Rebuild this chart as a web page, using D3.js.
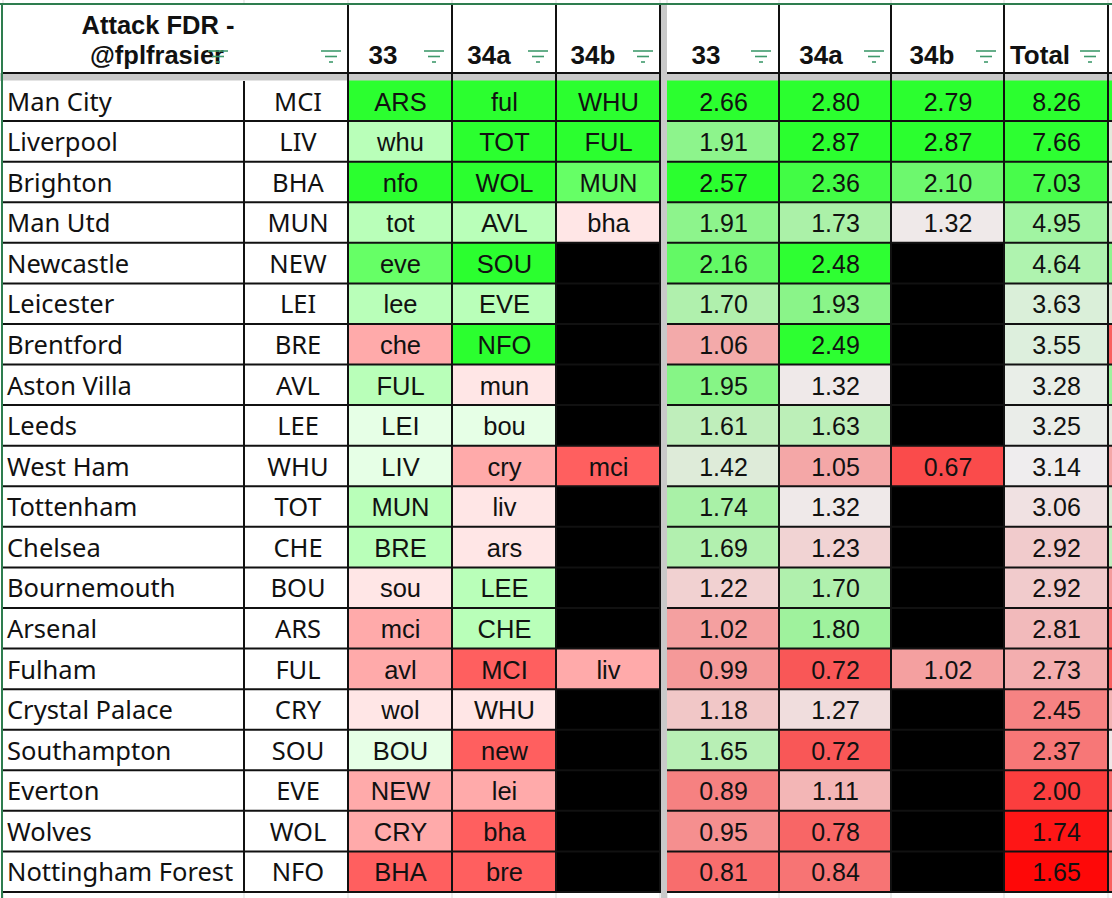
<!DOCTYPE html>
<html>
<head>
<meta charset="utf-8">
<script src="https://cdn.jsdelivr.net/npm/d3@7"></script>
<style>
html, body { margin: 0; padding: 0; background: #fff; overflow: hidden; }
svg { display: block; }
</style>
</head>
<body>
<div id="viz"></div>
<script>
const teams = ["Man City","Liverpool","Brighton","Man Utd","Newcastle","Leicester","Brentford","Aston Villa","Leeds","West Ham","Tottenham","Chelsea","Bournemouth","Arsenal","Fulham","Crystal Palace","Southampton","Everton","Wolves","Nottingham Forest"];
const codes = ["MCI","LIV","BHA","MUN","NEW","LEI","BRE","AVL","LEE","WHU","TOT","CHE","BOU","ARS","FUL","CRY","SOU","EVE","WOL","NFO"];

const fix33 = ["ARS","whu","nfo","tot","eve","lee","che","FUL","LEI","LIV","MUN","BRE","sou","mci","avl","wol","BOU","NEW","CRY","BHA"];
const fix34a = ["ful","TOT","WOL","AVL","SOU","EVE","NFO","mun","bou","cry","liv","ars","LEE","CHE","MCI","WHU","new","lei","bha","bre"];
const fix34b = ["WHU","FUL","MUN","bha",null,null,null,null,null,"mci",null,null,null,null,"liv",null,null,null,null,null];

// fixture colour tier, 7 = easiest, 1 = hardest
const tier33 = [7,5,7,5,6,5,2,5,4,4,5,5,3,2,2,3,4,2,2,1];
const tier34a = [7,7,7,5,7,5,7,3,4,2,3,3,5,5,1,3,1,2,1,1];
const tier34b = [7,7,6,3,null,null,null,null,null,1,null,null,null,null,2,null,null,null,null,null];
const tierLevels = [1,2,3,4,5,6,7];
const tierColors = ["#ff5f5f","#ffaaaa","#ffe6e6","#e6ffe6","#b9ffb9","#66ff66","#2bff2f"];

const val33 = [2.66,1.91,2.57,1.91,2.16,1.70,1.06,1.95,1.61,1.42,1.74,1.69,1.22,1.02,0.99,1.18,1.65,0.89,0.95,0.81];
const val34a = [2.80,2.87,2.36,1.73,2.48,1.93,2.49,1.32,1.63,1.05,1.32,1.23,1.70,1.80,0.72,1.27,0.72,1.11,0.78,0.84];
const val34b = [2.79,2.87,2.10,1.32,null,null,null,null,null,0.67,null,null,null,null,1.02,null,null,null,null,null];
const totals = [8.26,7.66,7.03,4.95,4.64,3.63,3.55,3.28,3.25,3.14,3.06,2.92,2.92,2.81,2.73,2.45,2.37,2.00,1.74,1.65];
// the column cut off at the right edge, only its colour shows
const nextCol = [2.6,1.4,1.36,1.4,1.9,1.4,0.75,1.8,1.38,1.05,1.45,1.6,1.0,0.8,0.75,1.1,1.32,0.8,0.9,0.75];

const fixHeads = ["33","34a","34b"];
const valHeads = ["33","34a","34b","Total"];

const width = 1112;
const height = 898;
const textFont = "'Noto Sans', sans-serif";
const numFont = "'Liberation Sans', Arial, sans-serif";
const lineCol = "#111";
const greenLine = "#2e7d4f";
const bandCol = "#c9c9c9";

const leftEdges = [3, 244, 348, 452, 556, 660];
const rightEdges = [667, 779, 891, 1004, 1108];

const svg = d3.select("#viz").append("svg")
	.attr("width", width)
	.attr("height", height)
	.style("font-family", numFont);

const y = d3.scaleBand().domain(d3.range(teams.length)).range([80.5, 892]);
const tierScale = d3.scaleOrdinal().domain(tierLevels).range(tierColors);
const gwScale = d3.scaleLinear().domain([0.36, 1.32, 2.5]).range(["#ff0000", "#efe9e9", "#2bff2f"]).clamp(true);
const totalScale = d3.scaleLinear().domain([1.6, 3.14, 7.7]).range(["#ff0000", "#efedee", "#2bff2f"]).clamp(true);

// faint sheet gridlines above and below the table
const faint = leftEdges.concat(rightEdges);
svg.append("g").selectAll("line")
	.data(faint)
	.join("line")
		.attr("x1", d => d).attr("x2", d => d)
		.attr("y1", 0).attr("y2", height)
		.attr("stroke", "#e6e6e6").attr("stroke-width", 1.5);

// white header and grey frozen bands
svg.append("rect").attr("x", 3).attr("y", 5).attr("width", width - 3).attr("height", 68).attr("fill", "#fff");
svg.append("rect").attr("x", 0).attr("y", 73).attr("width", width).attr("height", 8).attr("fill", bandCol);
svg.append("rect").attr("x", 661).attr("y", 5).attr("width", 6).attr("height", height - 5).attr("fill", bandCol);

const rows = d3.range(teams.length);

// white name and code cells
svg.append("rect").attr("x", 3).attr("y", y(0)).attr("width", 345).attr("height", 811.5).attr("fill", "#fff");

function cellCols(values, tiers, i) {
	const g = svg.append("g");
	const x0 = leftEdges[i + 2], x1 = leftEdges[i + 3];
	g.selectAll("rect")
		.data(rows)
		.join("rect")
			.attr("x", x0).attr("width", x1 - x0)
			.attr("y", d => y(d)).attr("height", y.bandwidth())
			.attr("fill", d => values[d] === null ? "#000" : tierScale(tiers[d]));
	g.selectAll("text")
		.data(rows.filter(d => values[d] !== null))
		.join("text")
			.attr("x", (x0 + x1) / 2 + 0.5)
			.attr("y", d => y(d) + 30)
			.attr("text-anchor", "middle")
			.attr("font-size", 25.5)
			.attr("fill", "#111")
			.text(d => values[d]);
}
cellCols(fix33, tier33, 0);
cellCols(fix34a, tier34a, 1);
cellCols(fix34b, tier34b, 2);

function valCols(values, scale, i) {
	const g = svg.append("g");
	const x0 = rightEdges[i], x1 = rightEdges[i + 1];
	g.selectAll("rect")
		.data(rows)
		.join("rect")
			.attr("x", x0).attr("width", x1 - x0)
			.attr("y", d => y(d)).attr("height", y.bandwidth())
			.attr("fill", d => values[d] === null ? "#000" : scale(values[d]));
	g.selectAll("text")
		.data(rows.filter(d => values[d] !== null))
		.join("text")
			.attr("x", (x0 + x1) / 2 + 0.5)
			.attr("y", d => y(d) + 30)
			.attr("text-anchor", "middle")
			.attr("font-size", 25)
			.attr("fill", "#111")
			.text(d => values[d].toFixed(2));
}
valCols(val33, gwScale, 0);
valCols(val34a, gwScale, 1);
valCols(val34b, gwScale, 2);
valCols(totals, totalScale, 3);

// sliver of the next column
svg.append("g").selectAll("rect")
	.data(rows)
	.join("rect")
		.attr("x", 1108).attr("width", 4)
		.attr("y", d => y(d)).attr("height", y.bandwidth())
		.attr("fill", d => gwScale(nextCol[d]));

// team names and codes
svg.append("g").selectAll("text")
	.data(rows)
	.join("text")
		.attr("x", 7)
		.attr("y", d => y(d) + 30)
		.attr("font-family", textFont)
		.attr("font-size", 25.5)
		.attr("fill", "#111")
		.text(d => teams[d]);
svg.append("g").selectAll("text")
	.data(rows)
	.join("text")
		.attr("x", 298)
		.attr("y", d => y(d) + 30)
		.attr("text-anchor", "middle")
		.attr("font-family", textFont)
		.attr("font-size", 25.5)
		.attr("fill", "#111")
		.text(d => codes[d]);

// grid lines
const grid = svg.append("g").attr("stroke", lineCol).attr("stroke-width", 2);
const hLines = d3.range(1, teams.length + 1).map(i => i === teams.length ? 892 : y(i));
grid.selectAll(".h1")
	.data(hLines)
	.join("line").attr("class", "h1")
		.attr("x1", 3).attr("x2", 661)
		.attr("y1", d => d).attr("y2", d => d);
grid.selectAll(".h2")
	.data(hLines)
	.join("line").attr("class", "h2")
		.attr("x1", 667).attr("x2", width)
		.attr("y1", d => d).attr("y2", d => d);
grid.selectAll(".v1")
	.data(leftEdges.slice(1))
	.join("line").attr("class", "v1")
		.attr("x1", d => d).attr("x2", d => d)
		.attr("y1", d => d === 244 ? 81 : 5).attr("y2", 892);
grid.selectAll(".v2")
	.data(rightEdges.slice(1))
	.join("line").attr("class", "v2")
		.attr("x1", d => d).attr("x2", d => d)
		.attr("y1", 5).attr("y2", 892);
grid.append("line").attr("x1", 3).attr("x2", 661).attr("y1", 73).attr("y2", 73);
grid.append("line").attr("x1", 667).attr("x2", width).attr("y1", 73).attr("y2", 73);

// green frame of the header and left side
svg.append("line").attr("x1", 0).attr("x2", width).attr("y1", 4).attr("y2", 4).attr("stroke", greenLine).attr("stroke-width", 2);
svg.append("line").attr("x1", 2).attr("x2", 2).attr("y1", 4).attr("y2", height).attr("stroke", greenLine).attr("stroke-width", 2);

// header text
const title = svg.append("g").attr("font-weight", "bold").attr("font-size", 25.5).attr("fill", "#111").attr("text-anchor", "middle");
title.append("text").attr("x", 158).attr("y", 34).text("Attack FDR -");
title.append("text").attr("x", 157).attr("y", 64).text("@fplfrasier");

const headX = [383, 489, 593];
svg.append("g").selectAll("text")
	.data(fixHeads)
	.join("text")
		.attr("x", (d, i) => headX[i])
		.attr("y", 64)
		.attr("text-anchor", "middle")
		.attr("font-weight", "bold").attr("font-size", 26).attr("fill", "#111")
		.text(d => d);
const valHeadX = [706, 821, 932, 1040];
svg.append("g").selectAll("text")
	.data(valHeads)
	.join("text")
		.attr("x", (d, i) => valHeadX[i])
		.attr("y", 64)
		.attr("text-anchor", "middle")
		.attr("font-weight", "bold").attr("font-size", 26).attr("fill", "#111")
		.text(d => d);

// filter icons
const iconX = [218, 331, 434, 538, 643, 761, 874, 986, 1090];
const iconBars = [[10, 51], [6, 56.5], [2, 62]];
const icons = svg.append("g").attr("stroke", "#3f9a6c").attr("stroke-width", 1.6);
iconX.forEach(cx => {
	iconBars.forEach(b => {
		icons.append("line")
			.attr("x1", cx - b[0]).attr("x2", cx + b[0])
			.attr("y1", b[1]).attr("y2", b[1]);
	});
});
</script>
</body>
</html>
